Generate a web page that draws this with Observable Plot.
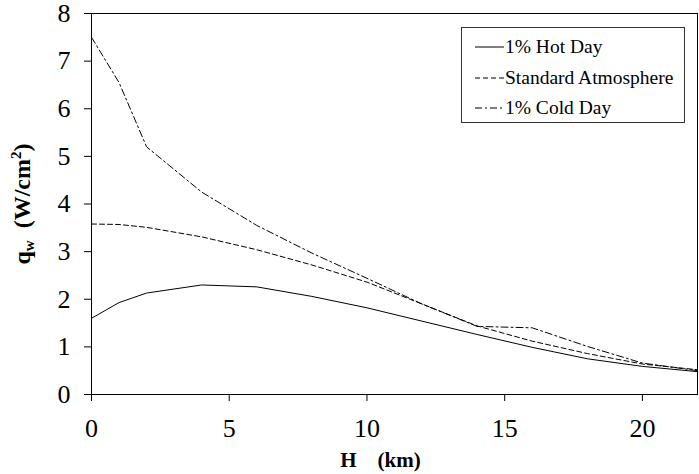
<!DOCTYPE html>
<html>
<head>
<meta charset="utf-8">
<script src="https://cdn.jsdelivr.net/npm/d3@7"></script>
<script src="https://cdn.jsdelivr.net/npm/@observablehq/plot@0.6"></script>
<style>
  html, body { margin: 0; padding: 0; background: #fff; }
  #wrap { position: relative; width: 699px; height: 474px; }
  #legend {
    position: absolute; left: 461px; top: 27px; width: 222px; height: 94px;
    border: 1px solid #333; background: #fff; box-sizing: content-box;
    font-family: "Liberation Serif", "Times New Roman", serif; font-size: 19.5px; color: #000;
  }
  .row { position: absolute; left: 0; height: 20px; display: flex; align-items: center; white-space: nowrap; }
  .row svg { margin-left: 13px; margin-right: 1px; }
</style>
</head>
<body>
<div id="wrap"></div>
<script>
// Data (heat flux q_w vs altitude H)
const altitude = [0, 1, 2, 4, 6, 8, 10, 12, 14, 16, 18, 20, 22];
const hotDay   = [1.6, 1.93, 2.13, 2.3, 2.26, 2.06, 1.82, 1.54, 1.26, 0.99, 0.75, 0.59, 0.48];
const stdAtm   = [3.58, 3.57, 3.51, 3.31, 3.04, 2.72, 2.36, 1.9, 1.44, 1.12, 0.86, 0.64, 0.52];
const coldDay  = [7.5, 6.55, 5.2, 4.25, 3.55, 2.97, 2.44, 1.9, 1.43, 1.4, 1.01, 0.66, 0.5];
const seriesNames = ["1% Hot Day", "Standard Atmosphere", "1% Cold Day"];
const xTicks = [0, 5, 10, 15, 20];
const yTicks = [0, 1, 2, 3, 4, 5, 6, 7, 8];

const dashes = ["none", "5,3", "7,3,2,3"];
const seriesValues = [hotDay, stdAtm, coldDay];
const rows = [];
seriesNames.forEach((name, s) => {
  altitude.forEach((h, i) => rows.push({series: name, H: h, q: seriesValues[s][i]}));
});

const font = "Liberation Serif, Times New Roman, serif";

const plot = Plot.plot({
  width: 699,
  height: 474,
  marginLeft: 91,
  marginRight: 2,
  marginTop: 13,
  marginBottom: 80,
  style: {fontFamily: font, fontSize: "26px", color: "#000", background: "#fff"},
  x: {domain: [0, 22]},
  y: {domain: [0, 8]},
  marks: [
    Plot.frame({stroke: "#000"}),
    Plot.axisX({ticks: xTicks, tickSize: 7, tickPadding: 17, fontSize: 26, label: null, tickFormat: d => String(d)}),
    Plot.axisY({ticks: yTicks, tickSize: 7, tickPadding: 14, fontSize: 26, label: null, tickFormat: d => String(d)}),
    ...seriesNames.map((name, s) => Plot.line(rows.filter(r => r.series === name), {
      x: "H", y: "q", stroke: "#000", strokeWidth: 1, strokeDasharray: dashes[s]
    })),
    Plot.text(["H\u00a0\u00a0\u00a0\u00a0(km)"], {
      frameAnchor: "bottom", text: d => d, dx: -14, dy: 72, lineAnchor: "bottom",
      fontWeight: "bold", fontSize: 21, fill: "#000"
    })
  ]
});

document.getElementById("wrap").appendChild(plot);

// Y axis title with subscript / superscript
const svg = d3.select(plot);
const yt = svg.append("text")
  .attr("transform", "translate(30,204) rotate(-90)")
  .attr("text-anchor", "middle")
  .attr("font-family", font)
  .attr("font-weight", "bold")
  .attr("font-size", 24)
  .attr("fill", "#000");
yt.append("tspan").text("q");
yt.append("tspan").attr("font-size", 15).attr("dy", 4).text("w");
yt.append("tspan").attr("dy", -4).text("\u00a0\u00a0(W/cm");
yt.append("tspan").attr("font-size", 15).attr("dy", -9).text("2");
yt.append("tspan").attr("dy", 9).text(")");

// Legend
const legend = document.createElement("div");
legend.id = "legend";
const rowTops = [9, 40, 70];
seriesNames.forEach((name, s) => {
  const row = document.createElement("div");
  row.className = "row";
  row.style.top = rowTops[s] + "px";
  const ns = "http://www.w3.org/2000/svg";
  const sv = document.createElementNS(ns, "svg");
  sv.setAttribute("width", 29); sv.setAttribute("height", 4);
  const ln = document.createElementNS(ns, "line");
  ln.setAttribute("x1", 0); ln.setAttribute("x2", 29);
  ln.setAttribute("y1", 2); ln.setAttribute("y2", 2);
  ln.setAttribute("stroke", "#000"); ln.setAttribute("stroke-width", 1);
  if (dashes[s] !== "none") ln.setAttribute("stroke-dasharray", dashes[s]);
  sv.appendChild(ln);
  row.appendChild(sv);
  const t = document.createElement("span");
  t.textContent = name;
  row.appendChild(t);
  legend.appendChild(row);
});
document.getElementById("wrap").appendChild(legend);
</script>
</body>
</html>
